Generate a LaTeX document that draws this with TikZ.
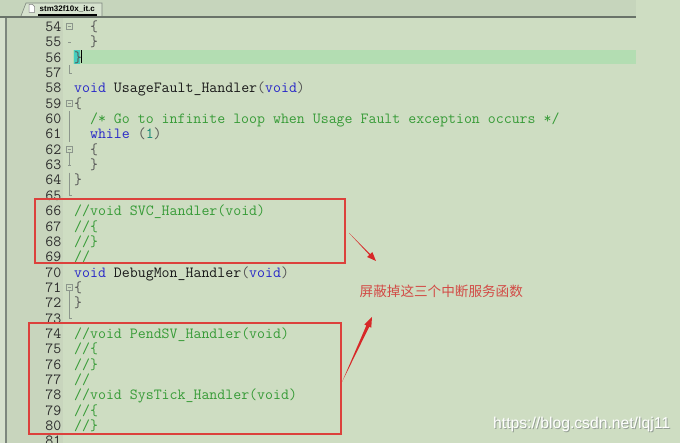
\documentclass[tikz,border=0pt]{standalone}
\usepackage{fontspec}
\newfontfamily\cjk{Noto Sans CJK SC}
\newfontfamily\wmfont{Liberation Sans}
\usetikzlibrary{calc}
\definecolor{bg}{RGB}{206,221,194}
\definecolor{gutter}{RGB}{200,213,189}
\definecolor{leftstrip}{RGB}{214,225,205}
\definecolor{edgecol}{RGB}{125,135,125}
\definecolor{tabbar}{RGB}{198,213,188}
\definecolor{tabline}{RGB}{105,115,105}
\definecolor{tabfill}{RGB}{214,226,206}
\definecolor{hl}{RGB}{179,221,178}
\definecolor{cursorbox}{RGB}{70,205,190}
\definecolor{kw}{RGB}{40,40,200}
\definecolor{txt}{RGB}{25,25,25}
\definecolor{op}{RGB}{85,85,85}
\definecolor{cm}{RGB}{55,155,55}
\definecolor{num}{RGB}{20,135,115}
\definecolor{lnum}{RGB}{45,45,45}
\definecolor{fold}{RGB}{140,150,140}
\definecolor{boxred}{RGB}{220,65,60}
\definecolor{arrred}{RGB}{215,40,40}
\definecolor{notered}{RGB}{210,75,70}
\definecolor{wmshade}{RGB}{150,160,150}
\newcommand\codeln[3]{\node[codetxt] (L#1) at ({74+#2*7.93},{31.5+(#1-54)*15.35}) {#3};}
\newcommand\numln[1]{\node[numtxt] (N#1) at (61.5,{31.5+(#1-54)*15.35}) {#1};}
\newcommand\foldbox[1]{\draw[fold, fill=bg] ({66},{26.8+(#1-54)*15.35-3}) rectangle ({72},{26.8+(#1-54)*15.35+3});
  \draw[fold] (67.5,{26.8+(#1-54)*15.35}) -- (70.5,{26.8+(#1-54)*15.35});}
\newcommand\foldend[1]{\draw[fold] (69,{26.8+(#1-54)*15.35-7.7}) -- (69,{26.8+(#1-54)*15.35}) -- (72,{26.8+(#1-54)*15.35});}
\newcommand\foldbar[1]{\draw[fold] (69,{26.8+(#1-54)*15.35-7.7}) -- (69,{26.8+(#1-54)*15.35+7.7});}
\newcommand\foldtick[1]{\draw[fold] (68,{26.8+(#1-54)*15.35}) -- (71,{26.8+(#1-54)*15.35});}
\begin{document}
\begin{tikzpicture}[x=1pt,y=-1pt,
  codetxt/.style={anchor=base west, inner sep=0, text=txt, font=\ttfamily\fontsize{15.45}{15.35}\selectfont},
  numtxt/.style={anchor=base east, inner sep=0, text=lnum, font=\ttfamily\fontsize{15.45}{15.35}\selectfont},
  fold/.style={draw=fold, line width=0.6},
  redbox/.style={draw=boxred, line width=1.4},
  arrowfill/.style={fill=arrred},
  note/.style={anchor=west, inner sep=0, text=notered, font=\cjk\fontsize{13.6}{14}\selectfont},
  wmtxt/.style={anchor=west, inner sep=0, font=\wmfont\fontsize{15.7}{16}\selectfont},
  tabtxt/.style={anchor=west, inner sep=0, text=black, font=\wmfont\bfseries\fontsize{8}{9}\selectfont}]
\useasboundingbox (0,0) rectangle (680,443);
\fill[bg] (0,0) rectangle (680,443);
% left strip and gutter
\fill[leftstrip] (0,17) rectangle (6,443);
\fill[gutter] (7,18) rectangle (63,443);
\draw[edgecol, line width=1.5] (6,17) -- (6,443);
% tab bar
\fill[tabbar] (0,0) rectangle (636,16);
\draw[tabline, line width=2] (0,17) -- (636,17);
\fill[tabfill] (21,16) -- (26,3) -- (102,3) -- (102,16) -- cycle;
\draw[edgecol, line width=0.6] (21,16) -- (26,3) -- (102,3) -- (102,16);
\draw[gray, fill=white, line width=0.5] (29,4.5) -- (32.5,4.5) -- (34.5,6.5) -- (34.5,12.5) -- (29,12.5) -- cycle;
\node[tabtxt] (tab) at (39.5,8.8) {stm32f10x\_it.c};
\draw[black, line width=1.3] (38,15) -- (97,15);
% current line highlight and cursor
\fill[hl] (73,49.8) rectangle (636,64.3);
\fill[cursorbox] (74,50.3) rectangle (80.3,63.8);
\draw[black, line width=0.7] (81,50.5) -- (81,63.5);
% fold markers
\foldbox{54}\foldtick{55}\foldend{57}
\foldbox{59}\foldbar{60}\foldbar{61}
\foldbox{62}\foldtick{63}\foldbar{64}\foldend{65}
\foldbox{71}\foldbar{72}\foldend{73}
\draw[fold] (69,{26.8+8*15.35+3}) -- (69,{26.8+9*15.35});
\draw[fold] (69,{26.8+17*15.35+3}) -- (69,{26.8+18*15.35-7.7});
% line numbers
\foreach \n in {54,...,81} {\numln{\n}}
% code
\codeln{54}{2}{\textcolor{op}{\{}}
\codeln{55}{2}{\textcolor{op}{\}}}
\codeln{56}{0}{\textcolor{op}{\}}}
\codeln{58}{0}{\textcolor{kw}{void} UsageFault\_Handler\textcolor{op}{(}\textcolor{kw}{void}\textcolor{op}{)}}
\codeln{59}{0}{\textcolor{op}{\{}}
\codeln{60}{2}{\textcolor{cm}{/* Go to infinite loop when Usage Fault exception occurs */}}
\codeln{61}{2}{\textcolor{kw}{while} \textcolor{op}{(}\textcolor{num}{1}\textcolor{op}{)}}
\codeln{62}{2}{\textcolor{op}{\{}}
\codeln{63}{2}{\textcolor{op}{\}}}
\codeln{64}{0}{\textcolor{op}{\}}}
\codeln{66}{0}{\textcolor{cm}{//void SVC\_Handler(void)}}
\codeln{67}{0}{\textcolor{cm}{//\{}}
\codeln{68}{0}{\textcolor{cm}{//\}}}
\codeln{69}{0}{\textcolor{cm}{//}}
\codeln{70}{0}{\textcolor{kw}{void} DebugMon\_Handler\textcolor{op}{(}\textcolor{kw}{void}\textcolor{op}{)}}
\codeln{71}{0}{\textcolor{op}{\{}}
\codeln{72}{0}{\textcolor{op}{\}}}
\codeln{74}{0}{\textcolor{cm}{//void PendSV\_Handler(void)}}
\codeln{75}{0}{\textcolor{cm}{//\{}}
\codeln{76}{0}{\textcolor{cm}{//\}}}
\codeln{77}{0}{\textcolor{cm}{//}}
\codeln{78}{0}{\textcolor{cm}{//void SysTick\_Handler(void)}}
\codeln{79}{0}{\textcolor{cm}{//\{}}
\codeln{80}{0}{\textcolor{cm}{//\}}}
% red boxes
\draw[redbox] (35,199) rectangle (345,263);
\draw[redbox] (29,323) rectangle (341,434);
% note
\node[note] (note) at (359.5,291) {屏蔽掉这三个中断服务函数};
% arrows
\coordinate (a1s) at (349,233);
\coordinate (a1e) at (376,261);
\coordinate (a1b) at ($(a1e)!9pt!(a1s)$);
\fill[arrowfill] (a1s) -- ($(a1b)!0.6pt!90:(a1e)$) -- ($(a1b)!3.6pt!90:(a1e)$) -- (a1e)
  -- ($(a1b)!3.6pt!-90:(a1e)$) -- ($(a1b)!0.6pt!-90:(a1e)$) -- cycle;
\coordinate (a2s) at (342,382);
\coordinate (a2e) at (372,317);
\coordinate (a2b) at ($(a2e)!10pt!(a2s)$);
\fill[arrowfill] (a2s) -- ($(a2b)!1.6pt!90:(a2e)$) -- ($(a2b)!3.8pt!90:(a2e)$) -- (a2e)
  -- ($(a2b)!3.8pt!-90:(a2e)$) -- ($(a2b)!1.6pt!-90:(a2e)$) -- cycle;
% watermark
\node[wmtxt, text=wmshade] (wmsh) at (494,425) {https://blog.csdn.net/lqj11};
\node[wmtxt, text=white] (wm) at (493,424) {https://blog.csdn.net/lqj11};
\end{tikzpicture}
\end{document}
